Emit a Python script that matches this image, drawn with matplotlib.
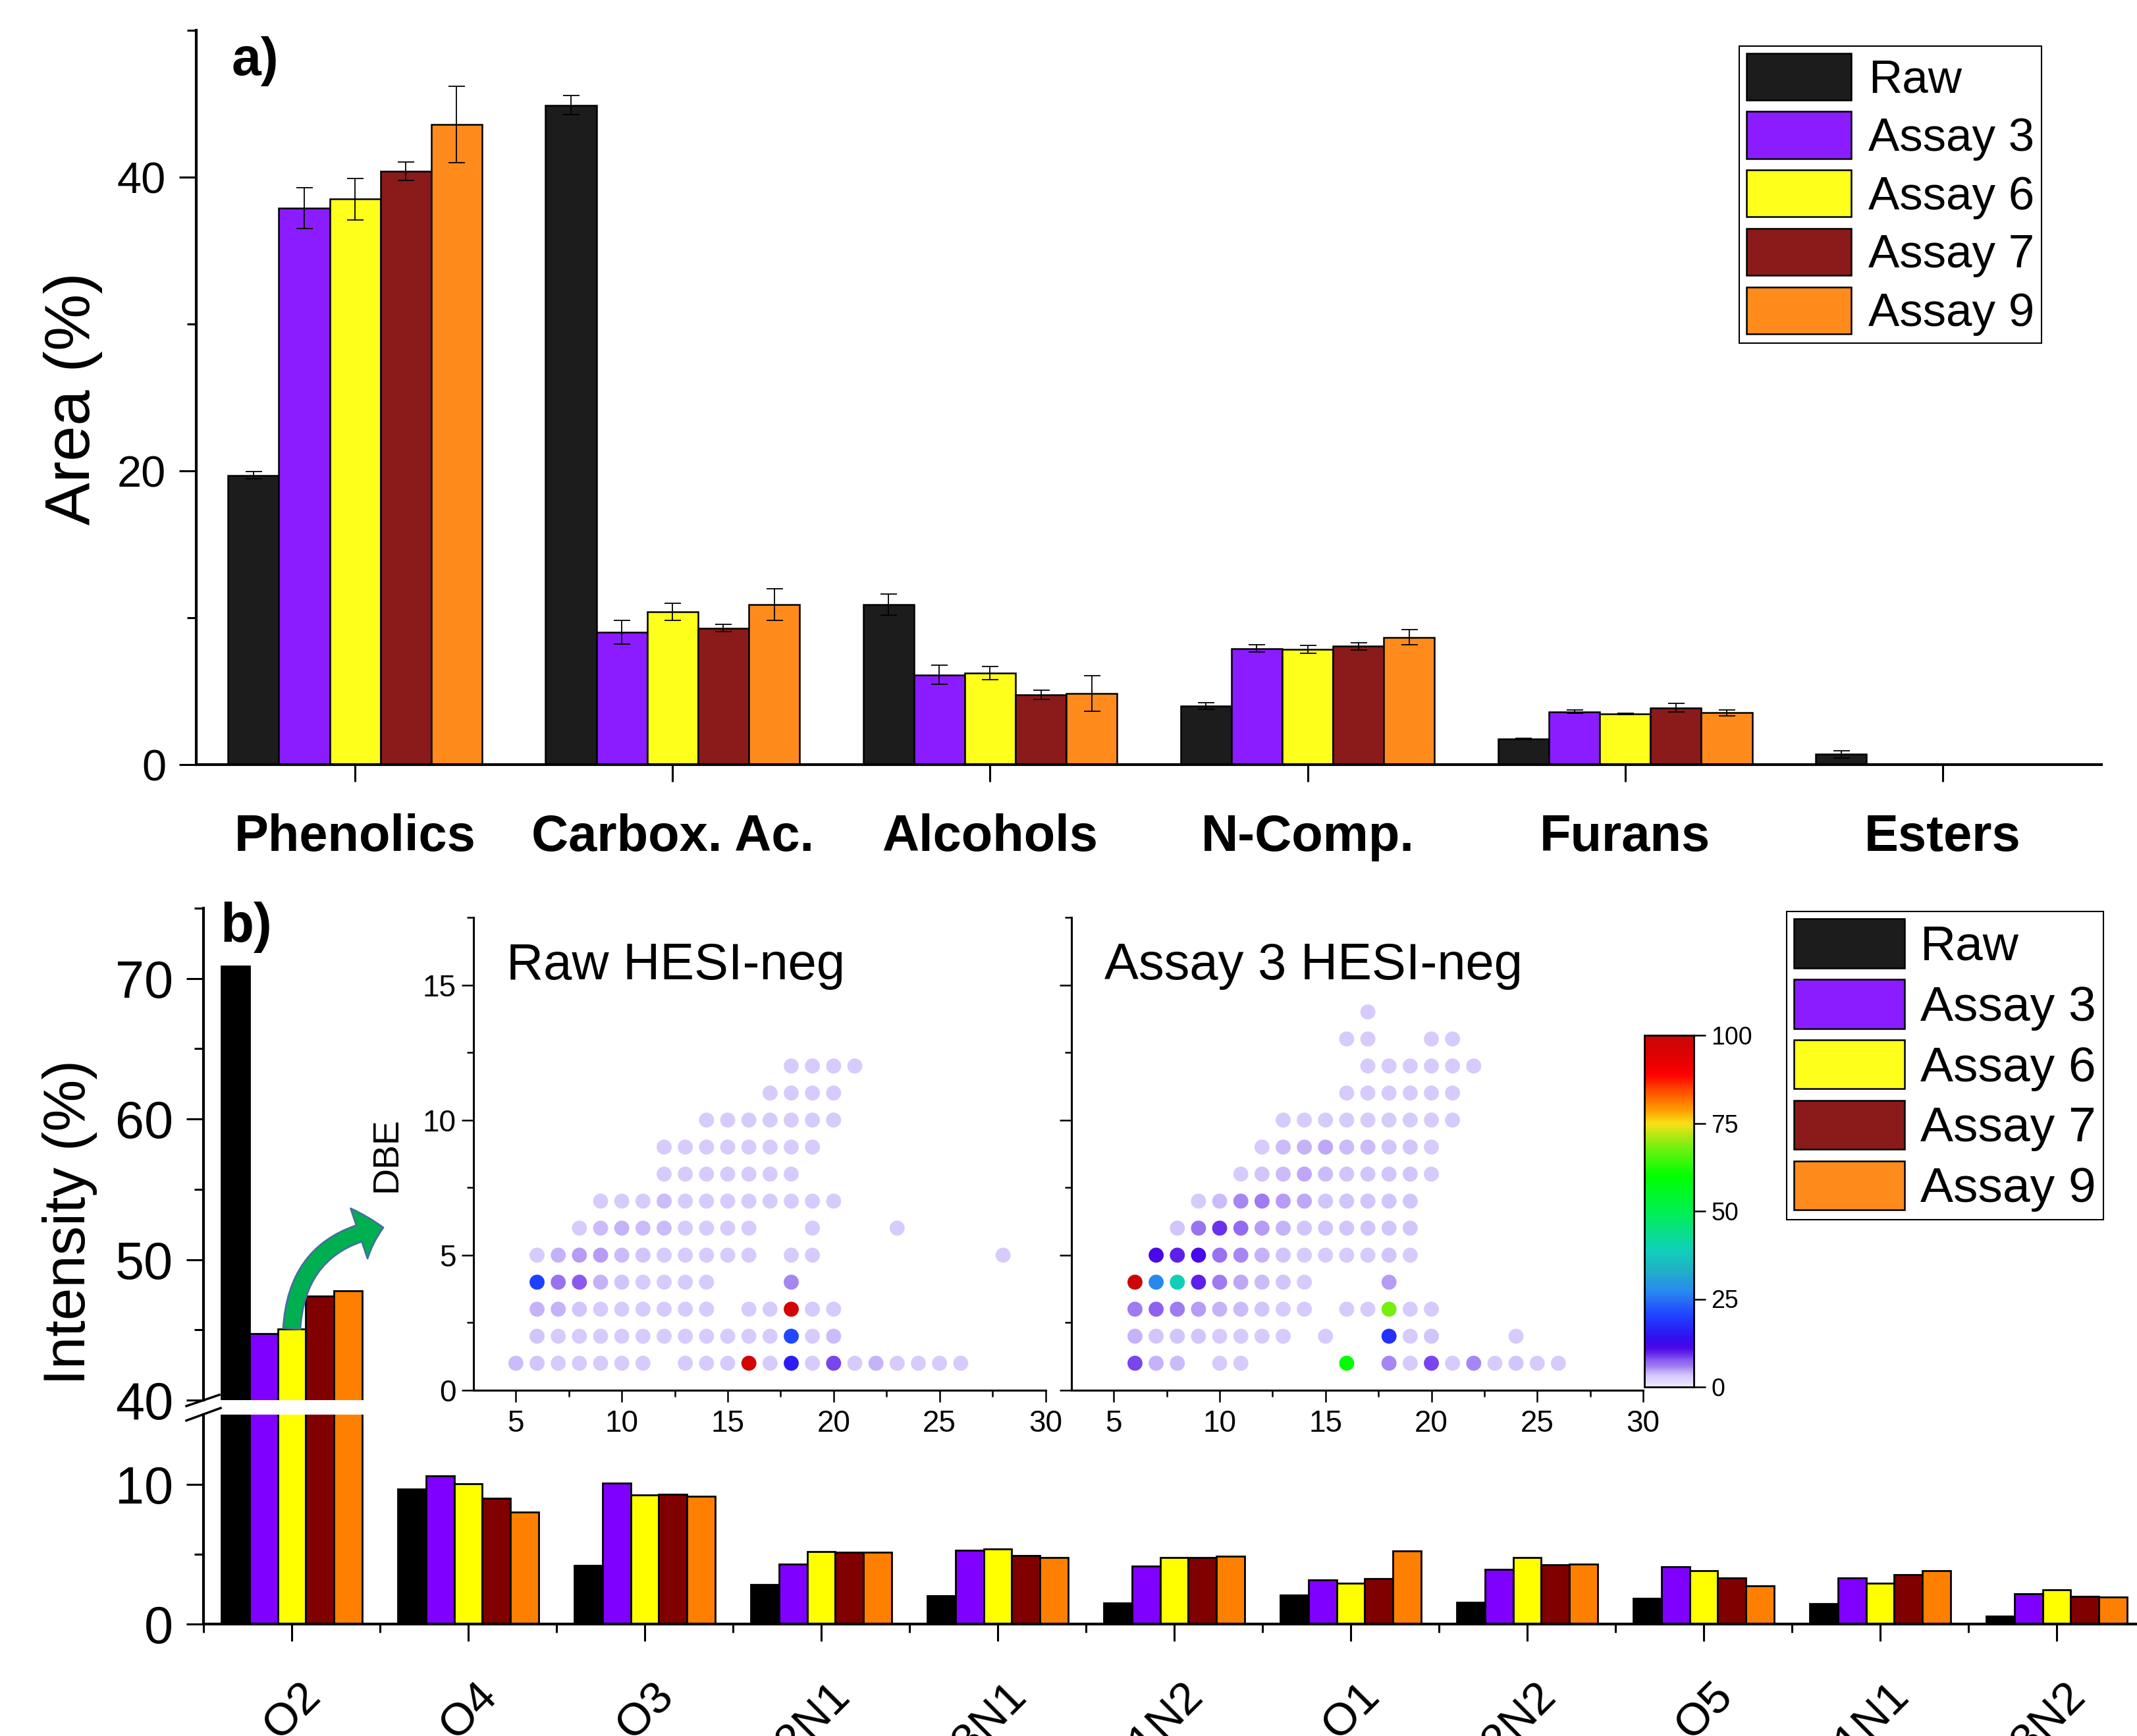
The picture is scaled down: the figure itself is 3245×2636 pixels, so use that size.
import numpy as np
import matplotlib
matplotlib.use('Agg')
import matplotlib.pyplot as plt
from matplotlib.colors import LinearSegmentedColormap, Normalize
from matplotlib.cm import ScalarMappable
from matplotlib.patches import Patch
from matplotlib.lines import Line2D
from matplotlib.ticker import FixedLocator, NullFormatter
import matplotlib.transforms as mtransforms

plt.rcParams['font.family'] = ['Liberation Sans', 'DejaVu Sans']

W, H, DPI = 3245, 2636, 100

# ---------------- panel a data ----------------
cats_a = ['Phenolics', 'Carbox. Ac.', 'Alcohols', 'N-Comp.', 'Furans', 'Esters']
series = ['Raw', 'Assay 3', 'Assay 6', 'Assay 7', 'Assay 9']
raw_a = [19.7, 44.9, 10.9, 4.0, 1.75, 0.7]
a3_a = [37.9, 9.0, 6.1, 7.9, 3.6, 0.0]
a6_a = [38.5, 10.4, 6.25, 7.85, 3.46, 0.0]
a7_a = [40.4, 9.3, 4.76, 8.05, 3.87, 0.0]
a9_a = [43.6, 10.9, 4.84, 8.67, 3.53, 0.0]
raw_a_err = [0.25, 0.65, 0.7, 0.22, 0.05, 0.24]
a3_a_err = [1.4, 0.8, 0.65, 0.24, 0.1, 0.0]
a6_a_err = [1.4, 0.6, 0.45, 0.26, 0.03, 0.0]
a7_a_err = [0.63, 0.25, 0.32, 0.26, 0.28, 0.0]
a9_a_err = [2.6, 1.06, 1.2, 0.52, 0.19, 0.0]
cols_a = ['#1c1c1c', '#8b1cff', '#ffff1c', '#8b1a1a', '#ff8b1c']

# ---------------- panel b data ----------------
cats_b = ['O2', 'O4', 'O3', 'O2N1', 'O3N1', 'O1N2', 'O1', 'O2N2', 'O5', 'O1N1', 'O3N2']
raw_b = [70.86, 9.68, 4.22, 2.83, 2.05, 1.53, 2.06, 1.58, 1.85, 1.48, 0.58]
a3_b = [44.75, 10.6, 10.11, 4.27, 5.27, 4.15, 3.17, 3.9, 4.11, 3.3, 2.17]
a6_b = [45.08, 10.03, 9.24, 5.2, 5.39, 4.75, 2.91, 4.75, 3.82, 2.93, 2.46]
a7_b = [47.4, 8.99, 9.28, 5.12, 4.91, 4.75, 3.27, 4.24, 3.32, 3.54, 1.96]
a9_b = [47.8, 8.02, 9.15, 5.12, 4.78, 4.86, 5.23, 4.27, 2.75, 3.8, 1.93]
cols_b = ['#000000', '#8000ff', '#ffff00', '#800000', '#ff8000']

# ---------------- inset data (carbon number, DBE, relative intensity) ----------------
raw_carbon = [
    18, 19, 20, 21,
    17, 18, 19, 20,
    14, 15, 16, 17, 18, 19, 20,
    12, 13, 14, 15, 16, 17, 18, 19,
    12, 13, 14, 15, 16, 17, 18,
    9, 10, 11, 12, 13, 14, 15, 16, 17, 18, 19, 20,
    8, 9, 10, 11, 12, 13, 14, 15, 16, 19, 23,
    6, 7, 8, 9, 10, 11, 12, 13, 14, 15, 16, 18, 19, 28,
    6, 7, 8, 9, 10, 11, 12, 13, 14, 18,
    6, 7, 8, 9, 10, 11, 12, 13, 14, 16, 17, 18, 19, 20,
    6, 7, 8, 9, 10, 11, 12, 13, 14, 15, 16, 17, 18, 19, 20,
    5, 6, 7, 8, 9, 10, 11, 13, 14, 15, 16, 17, 18, 19, 20, 21, 22, 23, 24, 25, 26,
]
raw_dbe = [
    12, 12, 12, 12,
    11, 11, 11, 11,
    10, 10, 10, 10, 10, 10, 10,
    9, 9, 9, 9, 9, 9, 9, 9,
    8, 8, 8, 8, 8, 8, 8,
    7, 7, 7, 7, 7, 7, 7, 7, 7, 7, 7, 7,
    6, 6, 6, 6, 6, 6, 6, 6, 6, 6, 6,
    5, 5, 5, 5, 5, 5, 5, 5, 5, 5, 5, 5, 5, 5,
    4, 4, 4, 4, 4, 4, 4, 4, 4, 4,
    3, 3, 3, 3, 3, 3, 3, 3, 3, 3, 3, 3, 3, 3,
    2, 2, 2, 2, 2, 2, 2, 2, 2, 2, 2, 2, 2, 2, 2,
    1, 1, 1, 1, 1, 1, 1, 1, 1, 1, 1, 1, 1, 1, 1, 1, 1, 1, 1, 1, 1,
]
raw_int = [
    3, 3, 3, 3,
    3, 3, 3, 3,
    3, 3, 3, 3, 3, 3, 3,
    3, 3, 3, 3, 3, 3, 3, 3,
    3, 3, 3, 3, 3, 3, 3,
    3, 3, 3, 3.7, 3, 3, 3, 3, 3, 3, 3, 3,
    3, 3.7, 4.2, 3.7, 3.7, 3, 3, 3, 3, 3, 3,
    3, 4.2, 4.8, 4.8, 3.7, 3.2, 3, 3, 3, 3, 3, 3, 3, 3,
    20, 6.5, 7.5, 4.2, 3.5, 3, 3, 3, 3, 5.8,
    4, 4, 3.5, 3, 3, 3, 3, 3, 3, 3, 3, 97, 3, 3,
    3.3, 3, 3, 3, 3, 3, 3, 3, 3, 3, 3, 3, 21, 3, 3.7,
    3.7, 3.5, 3, 3, 3, 3, 3, 3, 3, 3, 97, 3, 16, 3, 8.5, 3, 4.2, 3, 3, 3, 3,
]
a3_carbon = [
    17,
    16, 17, 20, 21,
    17, 18, 19, 20, 21, 22,
    16, 17, 18, 19, 20, 21,
    13, 14, 15, 16, 17, 18, 19, 20, 21,
    12, 13, 14, 15, 16, 17, 18, 19, 20,
    11, 12, 13, 14, 15, 16, 17, 18, 19, 20,
    9, 10, 11, 12, 13, 14, 15, 16, 17, 18, 19,
    8, 9, 10, 11, 12, 13, 14, 15, 16, 17, 18, 19,
    7, 8, 9, 10, 11, 12, 13, 14, 15, 16, 17, 18, 19,
    6, 7, 8, 9, 10, 11, 12, 13, 14, 18,
    6, 7, 8, 9, 10, 11, 12, 13, 14, 16, 17, 18, 19, 20,
    6, 7, 8, 9, 10, 11, 12, 13, 15, 18, 19, 20, 24,
    6, 7, 8, 10, 11, 16, 18, 19, 20, 21, 22, 23, 24, 25, 26,
]
a3_dbe = [
    14,
    13, 13, 13, 13,
    12, 12, 12, 12, 12, 12,
    11, 11, 11, 11, 11, 11,
    10, 10, 10, 10, 10, 10, 10, 10, 10,
    9, 9, 9, 9, 9, 9, 9, 9, 9,
    8, 8, 8, 8, 8, 8, 8, 8, 8, 8,
    7, 7, 7, 7, 7, 7, 7, 7, 7, 7, 7,
    6, 6, 6, 6, 6, 6, 6, 6, 6, 6, 6, 6,
    5, 5, 5, 5, 5, 5, 5, 5, 5, 5, 5, 5, 5,
    4, 4, 4, 4, 4, 4, 4, 4, 4, 4,
    3, 3, 3, 3, 3, 3, 3, 3, 3, 3, 3, 3, 3, 3,
    2, 2, 2, 2, 2, 2, 2, 2, 2, 2, 2, 2, 2,
    1, 1, 1, 1, 1, 1, 1, 1, 1, 1, 1, 1, 1, 1, 1,
]
a3_int = [
    3,
    3, 3, 3, 3,
    3, 3, 3, 3, 3, 3,
    3, 3, 3, 3, 3, 3,
    3, 3, 3, 3, 3, 3, 3, 3, 3,
    3, 3.7, 4.2, 4.4, 3.7, 3.7, 3.2, 3.2, 3,
    3, 3.5, 3.7, 4.3, 3.7, 3.2, 3.2, 3.2, 3.2, 3,
    3, 3.7, 5.5, 6, 5, 4.5, 3.5, 3.2, 3.2, 3.2, 3.5,
    3.3, 6.5, 9, 7, 5, 4.2, 3.5, 3.2, 3.2, 3.2, 3.2, 3.2,
    11, 10, 11.5, 6.3, 5.5, 4, 3.5, 3, 3, 3, 3, 3.5, 3,
    99, 27, 39, 10, 6, 4.5, 3.7, 3.2, 3, 5,
    6, 7.3, 6, 5, 4, 3.7, 3.2, 3, 3, 3, 3, 68, 3, 3,
    4, 3.5, 3.2, 3.2, 3, 3, 3, 3, 3, 18, 3, 3.5, 3,
    8.5, 4, 3.7, 3, 3, 60, 5.5, 3, 8.5, 3, 5.5, 3, 3.5, 3, 3,
]

cmap_nodes = [(0, '#efeaff'), (3, '#d4c8fc'), (4, '#c4b0f8'), (5, '#b094f4'), (6, '#9c78f0'),
              (7.5, '#8a58f0'), (9, '#6a30ec'), (11, '#4a08e8'), (14, '#3010f0'), (20, '#2040ff'),
              (27, '#2888f0'), (33, '#20b0c8'), (39, '#10d0b8'), (50, '#00f050'), (60, '#00ff00'),
              (68, '#70f010'), (75, '#f8e018'), (79, '#ff9a00'), (84, '#ff5000'), (89, '#ff0000'),
              (94, '#e00000'), (100, '#c80808')]
cmap = LinearSegmentedColormap.from_list('dbe', [(p / 100.0, c) for p, c in cmap_nodes])
norm = Normalize(0, 100)


def fx(px):
    return px / W


def fy(py):
    return 1 - py / H


fig = plt.figure(figsize=(W / DPI, H / DPI), dpi=DPI)
bw = 0.16

# ================= panel a =================
ax_a = fig.add_axes([fx(298), fy(1161), fx(3191) - fx(298), fy(46) - fy(1161)])
xa = np.arange(len(cats_a))
vals_a = [raw_a, a3_a, a6_a, a7_a, a9_a]
errs_a = [raw_a_err, a3_a_err, a6_a_err, a7_a_err, a9_a_err]
for k in range(5):
    ax_a.bar(xa + (k - 2) * bw, vals_a[k], bw, color=cols_a[k], edgecolor='black',
             linewidth=1.8, label=series[k], zorder=2)
    v = np.array(vals_a[k])
    e = np.array(errs_a[k])
    m = v > 0
    ax_a.errorbar((xa + (k - 2) * bw)[m], v[m], yerr=e[m], fmt='none', ecolor='black',
                  elinewidth=1.3, capsize=9, capthick=1.3, zorder=3)
ax_a.set_xlim(-0.5, 5.5)
ax_a.set_ylim(0, 50)
ax_a.set_xticks(xa)
ax_a.set_xticklabels(cats_a, fontsize=56, fontweight='bold')
ax_a.yaxis.set_major_locator(FixedLocator([0, 20, 40]))
ax_a.yaxis.set_minor_locator(FixedLocator([10, 30, 50]))
ax_a.tick_params(axis='y', which='major', direction='out', length=19, width=2.2, labelsize=48, pad=14)
ax_a.tick_params(axis='y', which='minor', direction='out', length=10, width=2.2)
ax_a.tick_params(axis='x', which='major', direction='out', length=19, width=2.2, pad=34)
for s in ['top', 'right']:
    ax_a.spines[s].set_visible(False)
for s in ['left', 'bottom']:
    ax_a.spines[s].set_linewidth(3)
leg_a = ax_a.legend(loc='upper left', bbox_to_anchor=(fx(2641), fy(70)), bbox_transform=fig.transFigure,
                    fontsize=51, frameon=True, fancybox=False, edgecolor='black', framealpha=1,
                    borderpad=0.15, borderaxespad=0, handlelength=2.25, handleheight=1.17,
                    handletextpad=0.37, labelspacing=0.2)
leg_a.get_frame().set_linewidth(1.5)
fig.text(fx(352), fy(114), 'a)', fontsize=58, fontweight='bold', ha='left', va='baseline')
fig.text(fx(111), fy(605), 'Area (%)', fontsize=70, rotation=90, ha='center', va='center')

# ================= panel b =================
xb = np.arange(len(cats_b))
vals_b = [raw_b, a3_b, a6_b, a7_b, a9_b]
ax_bt = fig.add_axes([fx(309), fy(2126), fx(3257) - fx(309), fy(1379) - fy(2126)])
ax_bb = fig.add_axes([fx(309), fy(2466), fx(3257) - fx(309), fy(2148) - fy(2466)])
for ax in (ax_bt, ax_bb):
    for k in range(5):
        ax.bar(xb + (k - 2) * bw, vals_b[k], bw, color=cols_b[k], edgecolor='black', linewidth=2, zorder=2)
    ax.set_xlim(-0.5, 10.5)
    ax.spines['top'].set_visible(False)
    ax.spines['right'].set_visible(False)
    ax.spines['left'].set_linewidth(3)
    ax.spines['bottom'].set_linewidth(3)
    ax.patch.set_alpha(0)
ax_bt.set_ylim(40, 75)
ax_bb.set_ylim(0, 15)
ax_bt.spines['bottom'].set_visible(False)
ax_bt.set_xticks([])
ax_bt.yaxis.set_major_locator(FixedLocator([40, 50, 60, 70]))
ax_bt.yaxis.set_minor_locator(FixedLocator([45, 55, 65, 75]))
ax_bb.yaxis.set_major_locator(FixedLocator([0, 10]))
ax_bb.yaxis.set_minor_locator(FixedLocator([5]))
for ax in (ax_bt, ax_bb):
    ax.tick_params(axis='y', which='major', direction='out', length=19, width=2.2, labelsize=57, pad=14)
    ax.tick_params(axis='y', which='minor', direction='out', length=10, width=2.2)
ax_bb.set_xticks(xb)
ax_bb.xaxis.set_minor_locator(FixedLocator(list(xb - 0.5) + [10.5]))
ax_bb.set_xticklabels(cats_b, rotation=45, ha='right', va='top', fontsize=50)
ax_bb.tick_params(axis='x', which='major', direction='out', length=19, width=2.2, pad=36)
ax_bb.tick_params(axis='x', which='minor', direction='out', length=9, width=2.2)
offset = mtransforms.ScaledTranslation(0.57, 0, fig.dpi_scale_trans)
for lab in ax_bb.get_xticklabels():
    lab.set_transform(lab.get_transform() + offset)

# break marks
for (x0, y0, x1, y1) in [(283, 2135, 333, 2118), (283, 2157, 335, 2138)]:
    fig.add_artist(Line2D([fx(x0), fx(x1)], [fy(y0), fy(y1)], transform=fig.transFigure,
                          color='black', lw=2.5))

leg_handles = [Patch(facecolor=c, edgecolor='black', linewidth=1.8) for c in cols_a]
leg_b = ax_bt.legend(leg_handles, series, loc='upper left', bbox_to_anchor=(fx(2713), fy(1384)),
                     bbox_transform=fig.transFigure, fontsize=54, frameon=True, fancybox=False,
                     edgecolor='black', framealpha=1, borderpad=0.15, borderaxespad=0,
                     handlelength=2.23, handleheight=1.15, handletextpad=0.32, labelspacing=0.19)
leg_b.get_frame().set_linewidth(1.5)
fig.text(fx(334), fy(1430), 'b)', fontsize=60, fontweight='bold', ha='left', va='baseline')
fig.text(fx(106), fy(1856), 'Intensity (%)', fontsize=64, rotation=90, ha='center', va='center')
fig.text(fx(587), fy(1753), 'DBE', fontsize=40, rotation=90, ha='center', va='center')

# ================= insets =================
ax_r = fig.add_axes([fx(719), fy(2111), fx(1587.5) - fx(719), fy(1393) - fy(2111)])
ax_s = fig.add_axes([fx(1627), fy(2111), fx(2495) - fx(1627), fy(1393) - fy(2111)])
for ax, cc, dd, ii, title in [(ax_r, raw_carbon, raw_dbe, raw_int, 'Raw HESI-neg'),
                              (ax_s, a3_carbon, a3_dbe, a3_int, 'Assay 3 HESI-neg')]:
    ax.scatter(cc, dd, c=ii, cmap=cmap, norm=norm, s=270, linewidths=0, zorder=3)
    ax.set_xlim(3, 30)
    ax.set_ylim(0, 17.5)
    ax.patch.set_alpha(0)
    ax.spines['top'].set_visible(False)
    ax.spines['right'].set_visible(False)
    ax.spines['left'].set_linewidth(2.2)
    ax.spines['bottom'].set_linewidth(2.2)
    ax.xaxis.set_major_locator(FixedLocator([5, 10, 15, 20, 25, 30]))
    ax.xaxis.set_minor_locator(FixedLocator([7.5, 12.5, 17.5, 22.5, 27.5]))
    ax.yaxis.set_major_locator(FixedLocator([0, 5, 10, 15]))
    ax.yaxis.set_minor_locator(FixedLocator([2.5, 7.5, 12.5, 17.5]))
    ax.tick_params(axis='both', which='major', direction='out', length=13, width=1.8, labelsize=33)
    ax.tick_params(axis='both', which='minor', direction='out', length=7, width=1.8)
    ax.tick_params(axis='x', which='major', pad=8)
    ax.tick_params(axis='y', which='major', pad=6)
    ax.text(0.058, 0.869, title, transform=ax.transAxes, fontsize=56, ha='left', va='baseline')
ax_s.yaxis.set_major_formatter(NullFormatter())

cax = fig.add_axes([fx(2497), fy(2106), fx(2572) - fx(2497), fy(1572) - fy(2106)])
cb = fig.colorbar(ScalarMappable(norm=norm, cmap=cmap), cax=cax, ticks=[0, 25, 50, 75, 100])
cb.outline.set_linewidth(2)
cax.tick_params(direction='out', length=13, width=1.8, labelsize=27, pad=6)

# arrow from the Assay 6 O2 bar to the inset
ax_bt.annotate('', xy=(fx(582), fy(1864)), xycoords='figure fraction',
               xytext=(xb[0], a6_b[0]), textcoords='data',
               arrowprops=dict(arrowstyle='simple,head_length=1.6,head_width=3.4,tail_width=1.1',
                               mutation_scale=17, connectionstyle='arc3,rad=-0.4',
                               fc='#00b050', ec='#41719c', lw=2, shrinkA=0, shrinkB=0),
               zorder=5)

fig.savefig('out.png', dpi=DPI)
